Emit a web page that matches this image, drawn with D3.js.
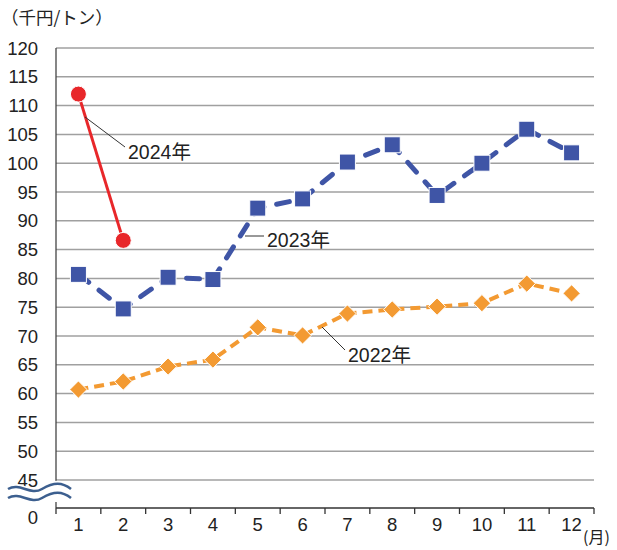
<!DOCTYPE html>
<html><head><meta charset="utf-8">
<script src="https://cdn.jsdelivr.net/npm/d3@7"></script>
<style>body{margin:0;background:#fff}svg{display:block}</style>
</head><body><svg id="c" width="617" height="550"></svg>
<script>
const months = ["1","2","3","4","5","6","7","8","9","10","11","12"];
const yTicks = [45,50,55,60,65,70,75,80,85,90,95,100,105,110,115,120];
const v2024 = [112.0, 86.6];
const v2023 = [80.7, 74.7, 80.2, 79.8, 92.2, 93.8, 100.2, 103.2, 94.4, 100.0, 105.9, 101.8];
const v2022 = [60.7, 62.1, 64.7, 65.9, 71.5, 70.1, 73.9, 74.6, 75.1, 75.7, 79.1, 77.4];
const unitLabel = "（千円/トン）";
const monthUnit = "(月)";

const svg = d3.select("#c");
const L = 56, R = 594, T = 48, B = 480, AX = 508;
const x = d3.scaleBand().domain(months).range([L, R]);
const y = d3.scaleLinear().domain([45, 120]).range([B, T]);
const font = "'Liberation Sans', Arial, sans-serif";

// gridlines
svg.append("g").selectAll("line").data(yTicks).join("line")
  .attr("x1", L).attr("x2", R).attr("y1", d => y(d)).attr("y2", d => y(d))
  .attr("stroke", "#a0a0a0").attr("stroke-width", 1.5);

// y labels
svg.append("g").selectAll("text").data(yTicks).join("text")
  .attr("x", 38).attr("y", d => y(d)).attr("dy", "0.36em")
  .attr("text-anchor", "end").attr("font-family", font).attr("font-size", 18.5)
  .attr("fill", "#222").text(d => d);
svg.append("text").attr("x", 38).attr("y", 517).attr("dy", "0.36em")
  .attr("text-anchor", "end").attr("font-family", font).attr("font-size", 18.5)
  .attr("fill", "#222").text("0");

// left axis (broken)
svg.append("line").attr("x1", L).attr("x2", L).attr("y1", T).attr("y2", 482)
  .attr("stroke", "#444").attr("stroke-width", 1.3);
svg.append("line").attr("x1", L).attr("x2", L).attr("y1", 502).attr("y2", AX)
  .attr("stroke", "#444").attr("stroke-width", 1.3);

// x axis
const xAxis = d3.axisBottom(x).tickSize(0).tickFormat(d => d);
const gx = svg.append("g").attr("transform", `translate(0,${AX})`).call(xAxis);
gx.select(".domain").remove();
gx.selectAll("text").attr("font-family", font).attr("font-size", 18.5).attr("fill", "#222").attr("dy", "1.1em");
svg.append("line").attr("x1", L).attr("x2", R).attr("y1", AX).attr("y2", AX)
  .attr("stroke", "#333").attr("stroke-width", 1.3);
const bounds = months.map(m => x(m)).concat([R]);
svg.append("g").selectAll("line").data(bounds).join("line")
  .attr("x1", d => d).attr("x2", d => d).attr("y1", AX).attr("y2", AX + 6)
  .attr("stroke", "#333").attr("stroke-width", 1.3);
svg.append("text").attr("x", 583).attr("y", 543).attr("font-family", "'Noto Sans CJK JP', sans-serif")
  .attr("font-size", 16).attr("fill", "#222").text(monthUnit);

// unit label
svg.append("text").attr("x", 1).attr("y", 24).attr("font-family", "'Noto Sans CJK JP', sans-serif")
  .attr("font-size", 17.5).attr("fill", "#222").text(unitLabel);

// axis break symbol
const wave = (yy) => `M8,${yy} C20,${yy-7} 30,${yy+7} 42,${yy} S62,${yy-7} 71,${yy}`;
[489, 498].forEach(yy => {
  svg.append("path").attr("d", wave(yy)).attr("fill", "none").attr("stroke", "#fff").attr("stroke-width", 6);
});
[489, 498].forEach(yy => {
  svg.append("path").attr("d", wave(yy)).attr("fill", "none").attr("stroke", "#3c5f8f").attr("stroke-width", 2.6);
});

const cx = (i) => x(months[i]) + x.bandwidth() / 2;
const line = d3.line().x((d, i) => cx(i)).y(d => y(d));

// 2022
svg.append("path").datum(v2022).attr("d", line).attr("fill", "none")
  .attr("stroke", "#f39a32").attr("stroke-width", 4).attr("stroke-dasharray", "10,6");
svg.append("g").selectAll("path").data(v2022).join("path")
  .attr("d", d3.symbol().type(d3.symbolDiamond2).size(190))
  .attr("transform", (d, i) => `translate(${cx(i)},${y(d)})`)
  .attr("fill", "#f39a32").attr("stroke", "#fff").attr("stroke-width", 1);

// 2023
svg.append("path").datum(v2023).attr("d", line).attr("fill", "none")
  .attr("stroke", "#3f55a6").attr("stroke-width", 5).attr("stroke-linecap", "round")
  .attr("stroke-dasharray", "13,13");
svg.append("g").selectAll("rect").data(v2023).join("rect")
  .attr("x", (d, i) => cx(i) - 8).attr("y", d => y(d) - 8)
  .attr("width", 16).attr("height", 16)
  .attr("fill", "#3f55a6").attr("stroke", "#fff").attr("stroke-width", 1);

// 2024
svg.append("path").datum(v2024).attr("d", line).attr("fill", "none")
  .attr("stroke", "#e8272a").attr("stroke-width", 3);
svg.append("g").selectAll("circle").data(v2024).join("circle")
  .attr("cx", (d, i) => cx(i)).attr("cy", d => y(d)).attr("r", 8)
  .attr("fill", "#e8272a").attr("stroke", "#fff").attr("stroke-width", 1);

// annotations
const ann = [
  {t: "2024年", lx1: 85, ly1: 117, lx2: 125, ly2: 147, tx: 128, ty: 152},
  {t: "2023年", lx1: 245, ly1: 236, lx2: 264, ly2: 236, tx: 267, ty: 240},
  {t: "2022年", lx1: 322, ly1: 327, lx2: 345, ly2: 350, tx: 348, ty: 355}
];
ann.forEach(a => {
  svg.append("line").attr("x1", a.lx1).attr("y1", a.ly1).attr("x2", a.lx2).attr("y2", a.ly2)
    .attr("stroke", "#333").attr("stroke-width", 1);
  svg.append("text").attr("x", a.tx).attr("y", a.ty).attr("dy", "0.36em")
    .attr("font-family", font + ", 'Noto Sans CJK JP'").attr("font-size", 19.5)
    .attr("fill", "#222").text(a.t);
});
</script></body></html>
